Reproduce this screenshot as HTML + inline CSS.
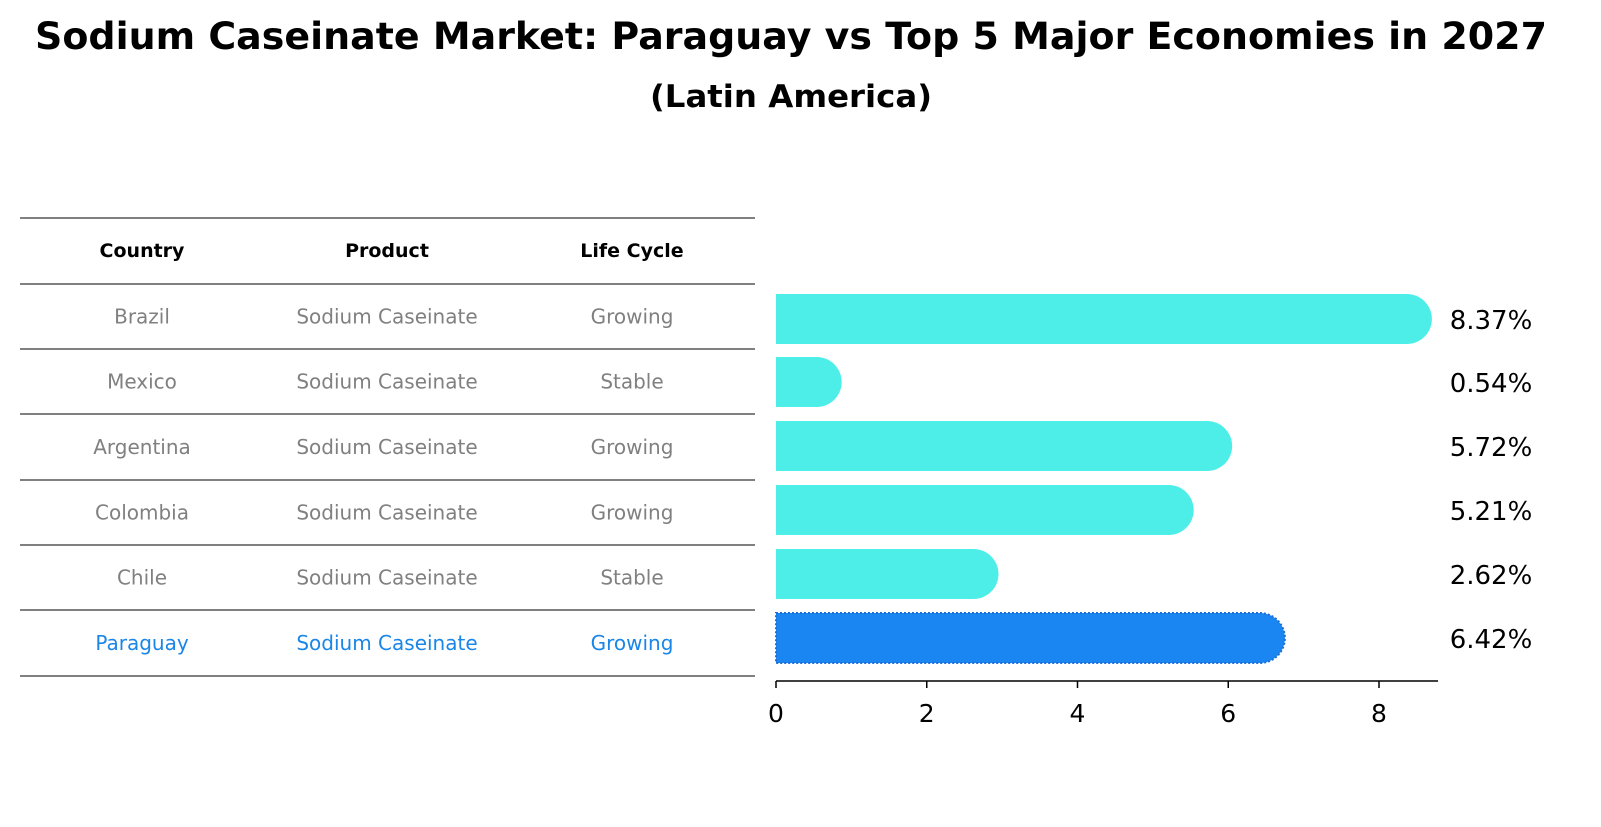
<!DOCTYPE html>
<html><head><meta charset="utf-8"><style>
body{margin:0;background:#fff;font-family:"DejaVu Sans","Liberation Sans",sans-serif}
</style></head><body>
<svg width="1601" height="823" viewBox="0 0 1601 823" xmlns="http://www.w3.org/2000/svg">
<text x="791" y="49" text-anchor="middle" font-family="DejaVu Sans, sans-serif" font-weight="bold" font-size="37.5" textLength="1512" lengthAdjust="spacingAndGlyphs">Sodium Caseinate Market: Paraguay vs Top 5 Major Economies in 2027</text>
<text x="791" y="107" text-anchor="middle" font-family="DejaVu Sans, sans-serif" font-weight="bold" font-size="31" textLength="282" lengthAdjust="spacingAndGlyphs">(Latin America)</text>
<g id="table"></g>
<g id="bars"></g>
</svg>
<script>
const countries=["Brazil","Mexico","Argentina","Colombia","Chile","Paraguay"];
const products=["Sodium Caseinate","Sodium Caseinate","Sodium Caseinate","Sodium Caseinate","Sodium Caseinate","Sodium Caseinate"];
const lifeCycles=["Growing","Stable","Growing","Growing","Stable","Growing"];
const values=[8.37,0.54,5.72,5.21,2.62,6.42];
const valueLabels=["8.37%","0.54%","5.72%","5.21%","2.62%","6.42%"];
const ticks=[0,2,4,6,8];
const NS="http://www.w3.org/2000/svg";
function mk(t,a,p,txt){const e=document.createElementNS(NS,t);for(const k in a)e.setAttribute(k,a[k]);if(txt!==undefined)e.textContent=txt;p.appendChild(e);return e;}
const F="DejaVu Sans, sans-serif";
const tb=document.getElementById('table');
const lineYs=[218,284,349,414,480,545,610,676];
lineYs.forEach((y,i)=>{const l=mk('line',{x1:20,x2:755,y1:y,y2:y,stroke:'#000','stroke-width':1},tb);

});
const cx=[142,387,632];
["Country","Product","Life Cycle"].forEach((h,i)=>{const t=mk('text',{x:cx[i],y:257,'text-anchor':'middle','font-family':F,'font-weight':'bold','font-size':19},tb,h);

});
countries.forEach((c,r)=>{const y=(lineYs[r+1]+lineYs[r+2])/2+7;const col=r===countries.length-1?'#1a86e8':'#808080';
[c,products[r],lifeCycles[r]].forEach((v,i)=>{const t=mk('text',{x:cx[i],y:y,'text-anchor':'middle','font-family':F,'font-size':20,fill:col},tb,v);

});});
const bg=document.getElementById('bars');
const x0=776,scale=(1379-776)/8;const X=v=>x0+v*scale;
const barCenters=[319,382,446,510,574,638];const bh=50,r=25;
values.forEach((v,i)=>{const cy=barCenters[i];const xe=X(v);const last=i===values.length-1;
const d=`M${x0},${cy-bh/2} L${xe},${cy-bh/2} A${r},${r} 0 0 1 ${xe},${cy+bh/2} L${x0},${cy+bh/2} Z`;
const p=mk('path',{d:d,fill:last?'#1a86f2':'#4deee8',stroke:last?'#1a70d8':'none','stroke-width':last?2:0,'stroke-dasharray':last?'2,2':''},bg);


const t=mk('text',{x:1491,y:cy+10,'text-anchor':'middle','font-family':F,'font-size':26},bg,valueLabels[i]);

});
const ax=mk('line',{x1:x0,x2:1438,y1:681,y2:681,stroke:'#000','stroke-width':1.5},bg);


ticks.forEach(v=>{const l=mk('line',{x1:X(v),x2:X(v),y1:681,y2:688,stroke:'#000','stroke-width':1.5},bg);


const t=mk('text',{x:X(v),y:722,'text-anchor':'middle','font-family':F,'font-size':25},bg,String(v));

});
</script>
</body></html>
